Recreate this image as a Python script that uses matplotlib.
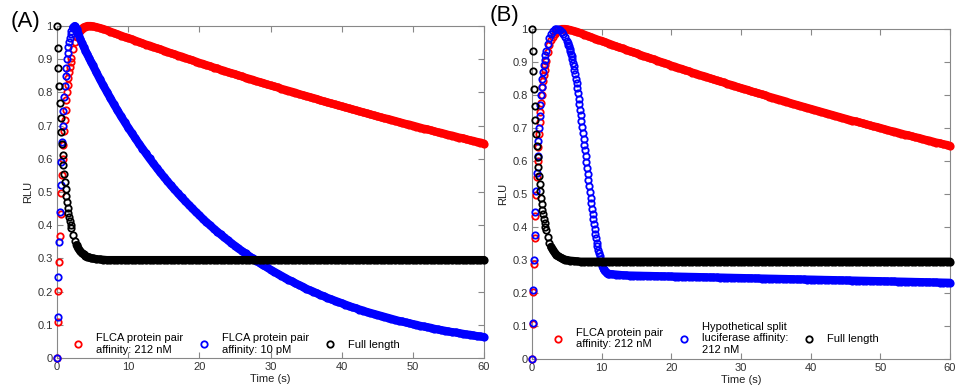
import numpy as np
import matplotlib.pyplot as plt

plt.rcParams['font.family'] = ['Liberation Sans', 'DejaVu Sans']

# sampling times (s): fine near the start, coarser on the slow tails
t_main = np.round(np.concatenate([np.arange(0, 2.01, 0.1),
                                  np.arange(2.25, 5.01, 0.25),
                                  np.arange(5.5, 60.01, 0.5)]), 2)
t_split = np.round(np.concatenate([np.arange(0, 2.01, 0.1),
                                   np.arange(2.25, 5.01, 0.25),
                                   np.arange(5.1, 11.01, 0.1),
                                   np.arange(11.5, 60.01, 0.5)]), 2)

# FLCA protein pair, affinity 212 nM (normalised RLU, on t_main)
rlu_flca_212 = [
    0.000, 0.107, 0.203, 0.289, 0.366, 0.434, 0.496, 0.551, 0.600, 0.643,
    0.683, 0.717, 0.748, 0.776, 0.801, 0.823, 0.843, 0.861, 0.877, 0.892, 0.904,
    0.930, 0.952, 0.966, 0.977, 0.985, 0.991, 0.996, 0.998, 1.000, 1.000, 1.000, 0.999,
    0.997, 0.994, 0.991, 0.987, 0.983, 0.979, 0.975, 0.971, 0.967, 0.964,
    0.960, 0.956, 0.952, 0.948, 0.944, 0.941, 0.937, 0.933, 0.930, 0.926,
    0.922, 0.918, 0.915, 0.911, 0.908, 0.904, 0.900, 0.897, 0.893, 0.889,
    0.886, 0.882, 0.879, 0.875, 0.872, 0.868, 0.865, 0.861, 0.858, 0.855,
    0.851, 0.848, 0.844, 0.841, 0.838, 0.834, 0.831, 0.828, 0.824, 0.821,
    0.818, 0.815, 0.811, 0.808, 0.805, 0.802, 0.799, 0.795, 0.792, 0.789,
    0.786, 0.783, 0.780, 0.776, 0.773, 0.770, 0.767, 0.764, 0.761, 0.758,
    0.755, 0.752, 0.749, 0.746, 0.743, 0.740, 0.737, 0.734, 0.731, 0.728,
    0.725, 0.722, 0.720, 0.717, 0.714, 0.711, 0.708, 0.705, 0.703, 0.700,
    0.697, 0.694, 0.691, 0.689, 0.686, 0.683, 0.680, 0.678, 0.675, 0.672,
    0.670, 0.667, 0.664, 0.662, 0.659, 0.656, 0.654, 0.651, 0.649, 0.646,
]

# FLCA protein pair, affinity 10 pM (on t_main)
rlu_flca_10 = [
    0.000, 0.125, 0.245, 0.350, 0.440, 0.520, 0.590, 0.650, 0.700, 0.745,
    0.785, 0.820, 0.850, 0.875, 0.900, 0.920, 0.937, 0.952, 0.965, 0.975, 0.984,
    0.995, 1.000, 0.992, 0.977, 0.962, 0.949, 0.937, 0.926, 0.915, 0.904, 0.893, 0.883,
    0.862, 0.841, 0.821, 0.802, 0.783, 0.764, 0.746, 0.728, 0.711, 0.694,
    0.678, 0.662, 0.646, 0.631, 0.616, 0.601, 0.587, 0.573, 0.559, 0.546,
    0.533, 0.520, 0.508, 0.496, 0.484, 0.473, 0.462, 0.451, 0.440, 0.430,
    0.419, 0.409, 0.400, 0.390, 0.381, 0.372, 0.363, 0.355, 0.346, 0.338,
    0.330, 0.322, 0.315, 0.307, 0.300, 0.293, 0.286, 0.279, 0.273, 0.266,
    0.260, 0.254, 0.248, 0.242, 0.236, 0.231, 0.225, 0.220, 0.215, 0.209,
    0.204, 0.200, 0.195, 0.190, 0.186, 0.181, 0.177, 0.173, 0.169, 0.165,
    0.161, 0.157, 0.153, 0.150, 0.146, 0.143, 0.139, 0.136, 0.133, 0.130,
    0.127, 0.124, 0.121, 0.118, 0.115, 0.112, 0.110, 0.107, 0.105, 0.102,
    0.100, 0.097, 0.095, 0.093, 0.091, 0.088, 0.086, 0.084, 0.082, 0.080,
    0.078, 0.077, 0.075, 0.073, 0.071, 0.070, 0.068, 0.066, 0.065, 0.063,
]

# full length luciferase (on t_main)
rlu_full = [
    1.000, 0.933, 0.872, 0.818, 0.768, 0.723, 0.682, 0.645, 0.612, 0.582,
    0.555, 0.530, 0.508, 0.488, 0.469, 0.453, 0.438, 0.424, 0.412, 0.401, 0.391,
    0.369, 0.353, 0.340, 0.330, 0.322, 0.316, 0.312, 0.308, 0.305, 0.303, 0.301, 0.300,
    0.298, 0.297, 0.296, 0.295, 0.295, 0.295, 0.295, 0.295, 0.295, 0.295,
    0.295, 0.295, 0.295, 0.295, 0.295, 0.295, 0.295, 0.295, 0.295, 0.295,
    0.295, 0.295, 0.295, 0.295, 0.295, 0.295, 0.295, 0.295, 0.295, 0.295,
    0.295, 0.295, 0.295, 0.295, 0.295, 0.295, 0.295, 0.295, 0.295, 0.295,
    0.295, 0.295, 0.295, 0.295, 0.295, 0.295, 0.295, 0.295, 0.295, 0.295,
    0.295, 0.295, 0.295, 0.295, 0.295, 0.295, 0.295, 0.295, 0.295, 0.295,
    0.295, 0.295, 0.295, 0.295, 0.295, 0.295, 0.295, 0.295, 0.295, 0.295,
    0.295, 0.295, 0.295, 0.295, 0.295, 0.295, 0.295, 0.295, 0.295, 0.295,
    0.295, 0.295, 0.295, 0.295, 0.295, 0.295, 0.295, 0.295, 0.295, 0.295,
    0.295, 0.295, 0.295, 0.295, 0.295, 0.295, 0.295, 0.295, 0.295, 0.295,
    0.295, 0.295, 0.295, 0.295, 0.295, 0.295, 0.295, 0.295, 0.295, 0.295,
]

# hypothetical split luciferase, affinity 212 nM (on t_split)
rlu_split_212 = [
    0.000, 0.110, 0.210, 0.300, 0.375, 0.445, 0.510, 0.565, 0.615, 0.660,
    0.700, 0.735, 0.770, 0.800, 0.825, 0.850, 0.870, 0.890, 0.905, 0.920, 0.932,
    0.955, 0.972, 0.985, 0.994, 0.999, 1.000, 0.999, 0.996, 0.991, 0.984, 0.975, 0.964,
    0.959, 0.953, 0.947, 0.940, 0.933, 0.925, 0.917, 0.908, 0.898, 0.888,
    0.876, 0.863, 0.849, 0.835, 0.820, 0.805, 0.789, 0.773, 0.756, 0.739,
    0.722, 0.704, 0.686, 0.668, 0.650, 0.632, 0.614, 0.596, 0.578, 0.560,
    0.542, 0.524, 0.506, 0.489, 0.472, 0.455, 0.439, 0.423, 0.408, 0.393,
    0.379, 0.366, 0.353, 0.341, 0.330, 0.320, 0.311, 0.302, 0.295, 0.288,
    0.282, 0.277, 0.273, 0.269, 0.266, 0.264, 0.262, 0.260, 0.259, 0.258,
    0.257, 0.256, 0.255, 0.254, 0.2535, 0.253,
    0.2528, 0.2525, 0.2523, 0.2520, 0.2518, 0.2516, 0.2513, 0.2511, 0.2508, 0.2506,
    0.2504, 0.2501, 0.2499, 0.2497, 0.2494, 0.2492, 0.2489, 0.2487, 0.2485, 0.2482,
    0.2480, 0.2477, 0.2475, 0.2473, 0.2470, 0.2468, 0.2466, 0.2463, 0.2461, 0.2458,
    0.2456, 0.2454, 0.2451, 0.2449, 0.2447, 0.2444, 0.2442, 0.2439, 0.2437, 0.2434,
    0.2432, 0.2430, 0.2427, 0.2425, 0.2423, 0.2420, 0.2418, 0.2415, 0.2413, 0.2411,
    0.2408, 0.2406, 0.2404, 0.2401, 0.2399, 0.2396, 0.2394, 0.2392, 0.2389, 0.2387,
    0.2385, 0.2382, 0.2380, 0.2377, 0.2375, 0.2372, 0.2370, 0.2368, 0.2365, 0.2363,
    0.2361, 0.2358, 0.2356, 0.2353, 0.2351, 0.2349, 0.2346, 0.2344, 0.2342, 0.2339,
    0.2337, 0.2334, 0.2332, 0.2329, 0.2327, 0.2325, 0.2322, 0.2320, 0.2318, 0.2315,
    0.2313, 0.2310,
]

label_212 = 'FLCA protein pair\naffinity: 212 nM'
label_10 = 'FLCA protein pair\naffinity: 10 pM'
label_split = 'Hypothetical split\nluciferase affinity:\n212 nM'
label_full = 'Full length'

fig = plt.figure(figsize=(9.66, 3.9), dpi=100)
ax_a = fig.add_axes([57 / 966, 1 - 358 / 390, 427 / 966, 332 / 390])
ax_b = fig.add_axes([532 / 966, 1 - 359 / 390, 418 / 966, 330 / 390])

ms, mew = 4.6, 1.3
mk = dict(marker='o', linestyle='none', mfc='none', ms=ms, mew=mew,
          clip_on=False, zorder=3)
FS = 8

# (t, values, colour, label, time after which the rings merge into a band)
panels = [
    (ax_a, [(t_main, rlu_flca_212, 'red', label_212, 3.5),
            (t_main, rlu_flca_10, 'blue', label_10, 2.25),
            (t_main, rlu_full, 'black', label_full, 2.75)], (0.037, 0.010)),
    (ax_b, [(t_main, rlu_flca_212, 'red', label_212, 3.5),
            (t_split, rlu_split_212, 'blue', label_split, 10.3),
            (t_main, rlu_full, 'black', label_full, 2.75)], (0.049, 0.012)),
]

for ax, series, leg_pos in panels:
    for t, v, c, lab, t_band in series:
        t = np.asarray(t)
        v = np.asarray(v)
        dense = t >= t_band
        ax.plot(t[dense], v[dense], color=c, lw=ms + mew, solid_capstyle='round',
                solid_joinstyle='round', clip_on=False, zorder=3)
        ax.plot(t, v, mec=c, label=lab, **mk)
    ax.set_xlim(0, 60)
    ax.set_ylim(0, 1)
    ax.set_xticks(range(0, 61, 10))
    ax.set_yticks(np.arange(0, 1.01, 0.1))
    ax.set_yticklabels(['0'] + ['%.1f' % y for y in np.arange(0.1, 0.95, 0.1)] + ['1'])
    ax.tick_params(direction='in', top=True, right=True, length=4, width=0.8,
                   color='#888888', labelcolor='#333333', labelsize=FS, pad=3)
    for s in ax.spines.values():
        s.set_color('#888888')
        s.set_linewidth(0.8)
    ax.set_xlabel('Time (s)', fontsize=FS, color='#222222', labelpad=1)
    ax.set_ylabel('RLU', fontsize=FS, color='#222222', labelpad=3)
    ax.legend(loc='lower left', bbox_to_anchor=leg_pos, ncol=3, frameon=False,
              fontsize=FS, handlelength=1.0, handletextpad=1.1,
              columnspacing=1.4, borderpad=0, borderaxespad=0)

fig.text(11 / 966, 1 - 22 / 390, '(A)', fontsize=16, va='center', ha='left')
fig.text(490 / 966, 1 - 15 / 390, '(B)', fontsize=16, va='center', ha='left')

fig.savefig('out.png', dpi=100)
